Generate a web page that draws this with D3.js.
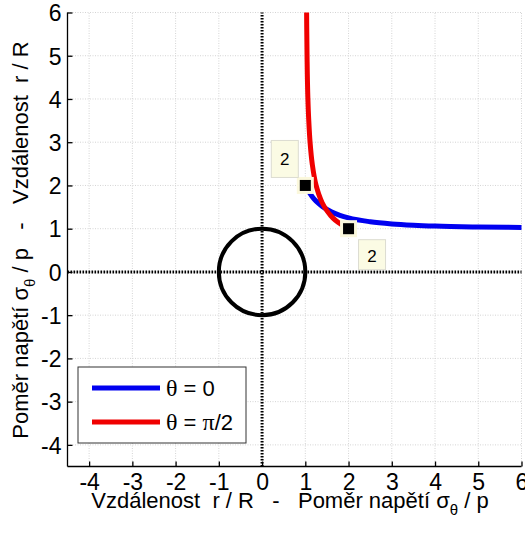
<!DOCTYPE html>
<html>
<head>
<meta charset="utf-8">
<script src="https://cdn.jsdelivr.net/npm/d3@7"></script>
<style>
  body { margin: 0; background: #fff; }
  svg text { font-family: "Liberation Sans", Arial, sans-serif; white-space: pre; }
</style>
</head>
<body>
<div class="chart"></div>
<script>
// values
const ticks = [-4, -3, -2, -1, 0, 1, 2, 3, 4, 5, 6];

// theta = 0 : x = r/R, y = sigma/p
const blueX = [1, 1.1, 1.2, 1.3, 1.4, 1.6, 1.8, 2, 2.5, 3, 3.5, 4, 5, 6];
const blueY = [2, 1.83, 1.69, 1.59, 1.51, 1.39, 1.31, 1.25, 1.16, 1.11, 1.08, 1.06, 1.04, 1.03];

// theta = pi/2 : x = sigma/p, y = r/R
const redX = [2, 1.83, 1.69, 1.59, 1.51, 1.39, 1.31, 1.25, 1.16, 1.11, 1.08, 1.06, 1.04, 1.03];
const redY = [1, 1.1, 1.2, 1.3, 1.4, 1.6, 1.8, 2, 2.5, 3, 3.5, 4, 5, 6];

const markers = [{x: 1, y: 2, label: "2"}, {x: 2, y: 1, label: "2"}];

const width = 525, height = 535;
const margin = {left: 67.5, right: 3.5, top: 12.5, bottom: 68.5};

const svg = d3.select(".chart").append("svg")
    .attr("width", width)
    .attr("height", height)

const x = d3.scaleLinear().domain([-4.5, 6]).range([margin.left, width - margin.right]);
const y = d3.scaleLinear().domain([-4.5, 6]).range([height - margin.bottom, margin.top]);

// grid
const grid = svg.append("g")
    .attr("stroke", "#d4d4d4")
    .attr("stroke-width", 1)
    .attr("stroke-dasharray", "1,1.5")
grid.selectAll(".gx").data(ticks).join("line")
    .attr("class", "gx")
    .attr("x1", d => x(d)).attr("x2", d => x(d))
    .attr("y1", y(-4.5)).attr("y2", y(6))
grid.selectAll(".gy").data(ticks).join("line")
    .attr("class", "gy")
    .attr("y1", d => y(d)).attr("y2", d => y(d))
    .attr("x1", x(-4.5)).attr("x2", x(6))

// axes
const xAxis = d3.axisBottom(x).tickValues(ticks).tickSize(-5).tickFormat(d => String(d));
const yAxis = d3.axisLeft(y).tickValues(ticks).tickSize(-5).tickPadding(6).tickFormat(d => String(d));

svg.append("g")
    .attr("transform", `translate(0,${y(-4.5)})`)
    .call(xAxis)
    .call(g => g.selectAll("text").attr("dy", null).attr("y", 23)
        .style("font-size", "23px").attr("fill", "#000"))
    .call(g => g.selectAll("line,path").attr("stroke", "#000").attr("stroke-width", 1.3))
    .call(g => g.select(".domain").attr("d", `M${x(-4.5)},0H${x(6)}`))

svg.append("g")
    .attr("transform", `translate(${x(-4.5)},0)`)
    .call(yAxis)
    .call(g => g.selectAll("text").attr("dy", "0.36em")
        .style("font-size", "23px").attr("fill", "#000"))
    .call(g => g.selectAll("line,path").attr("stroke", "#000").attr("stroke-width", 1.3))
    .call(g => g.select(".domain").attr("d", `M0,${y(-4.5)}V${y(6)}`))

// dotted zero lines
const zero = svg.append("g")
    .attr("stroke", "#000")
    .attr("stroke-width", 3)
    .attr("stroke-dasharray", "1.6,1.4")
zero.append("line")
    .attr("x1", x(0)).attr("x2", x(0))
    .attr("y1", y(-4.5)).attr("y2", y(6))
zero.append("line")
    .attr("x1", x(-4.5)).attr("x2", x(6))
    .attr("y1", y(0)).attr("y2", y(0))

// hole
svg.append("circle")
    .attr("cx", x(0)).attr("cy", y(0))
    .attr("r", x(1) - x(0))
    .attr("fill", "none")
    .attr("stroke", "#000")
    .attr("stroke-width", 4)

const line = d3.line().x(d => x(d[0])).y(d => y(d[1])).curve(d3.curveMonotoneX);
const lineR = d3.line().x(d => x(d[0])).y(d => y(d[1])).curve(d3.curveMonotoneY);

svg.append("path")
    .datum(blueX.map((v, i) => [v, blueY[i]]))
    .attr("d", line)
    .attr("fill", "none")
    .attr("stroke", "#0000f0")
    .attr("stroke-width", 5)

svg.append("path")
    .datum(redX.map((v, i) => [v, redY[i]]))
    .attr("d", lineR)
    .attr("fill", "none")
    .attr("stroke", "#f00000")
    .attr("stroke-width", 5)

// markers
svg.selectAll(".mk").data(markers).join("rect")
    .attr("class", "mk")
    .attr("x", d => x(d.x) - 7)
    .attr("y", d => y(d.y) - 7)
    .attr("width", 14).attr("height", 14)
    .attr("fill", "#000")
    .attr("stroke", "#fbf8dc")
    .attr("stroke-width", 3)

// data tips
const tips = [{m: markers[0], dx: -34, dy: -45}, {m: markers[1], dx: 10, dy: 11}];
const tip = svg.selectAll(".tip").data(tips).join("g")
    .attr("class", "tip")
    .attr("transform", d => `translate(${x(d.m.x) + d.dx},${y(d.m.y) + d.dy})`)
tip.append("rect")
    .attr("width", 27).attr("height", d => d.dy < 0 ? 37 : 30)
    .attr("fill", "#fbfbe4")
    .attr("stroke", "#dcdcd0")
    .attr("stroke-width", 1)
tip.append("text")
    .attr("x", 13.5).attr("y", d => d.dy < 0 ? 25 : 22)
    .attr("text-anchor", "middle")
    .style("font-size", "17px")
    .text(d => d.m.label)

// legend
const legend = svg.append("g").attr("transform", "translate(78,367)");
legend.append("rect")
    .attr("width", 168).attr("height", 76)
    .attr("fill", "#fff")
    .attr("stroke", "#333")
    .attr("stroke-width", 1)
const entries = [{c: "#0000f0", t: "0"}, {c: "#f00000", t: "\u03c0/2"}];
entries.forEach((e, i) => {
    const ly = 21 + i * 34;
    legend.append("line")
        .attr("x1", 14).attr("x2", 82)
        .attr("y1", ly).attr("y2", ly)
        .attr("stroke", e.c).attr("stroke-width", 5)
    const t = legend.append("text")
        .attr("x", 88).attr("y", ly + 8)
        .style("font-size", "22px")
    t.append("tspan").style("font-family", "'Liberation Serif', serif").style("font-size", "24px").text("\u03b8")
    t.append("tspan").text(" = ")
    if (e.t === "0") t.append("tspan").text("0")
    else {
        t.append("tspan").style("font-family", "'Liberation Serif', serif").style("font-size", "24px").text("\u03c0")
        t.append("tspan").text("/2")
    }
})

// axis labels
const xl = svg.append("text")
    .attr("x", 290).attr("y", 508)
    .attr("text-anchor", "middle")
    .style("font-size", "22px")
xl.append("tspan").text("Vzdálenost  r / R   -   Poměr napětí ")
xl.append("tspan").text("\u03c3")
xl.append("tspan").attr("dy", 7).style("font-size", "15px").text("\u03b8")
xl.append("tspan").attr("dy", -7).text(" / p")

const yl = svg.append("text")
    .attr("transform", "translate(28,240) rotate(-90)")
    .attr("text-anchor", "middle")
    .style("font-size", "22px")
yl.append("tspan").text("Poměr napětí ")
yl.append("tspan").text("\u03c3")
yl.append("tspan").attr("dy", 7).style("font-size", "15px").text("\u03b8")
yl.append("tspan").attr("dy", -7).text(" / p   -   Vzdálenost  r / R")
</script>
</body>
</html>
